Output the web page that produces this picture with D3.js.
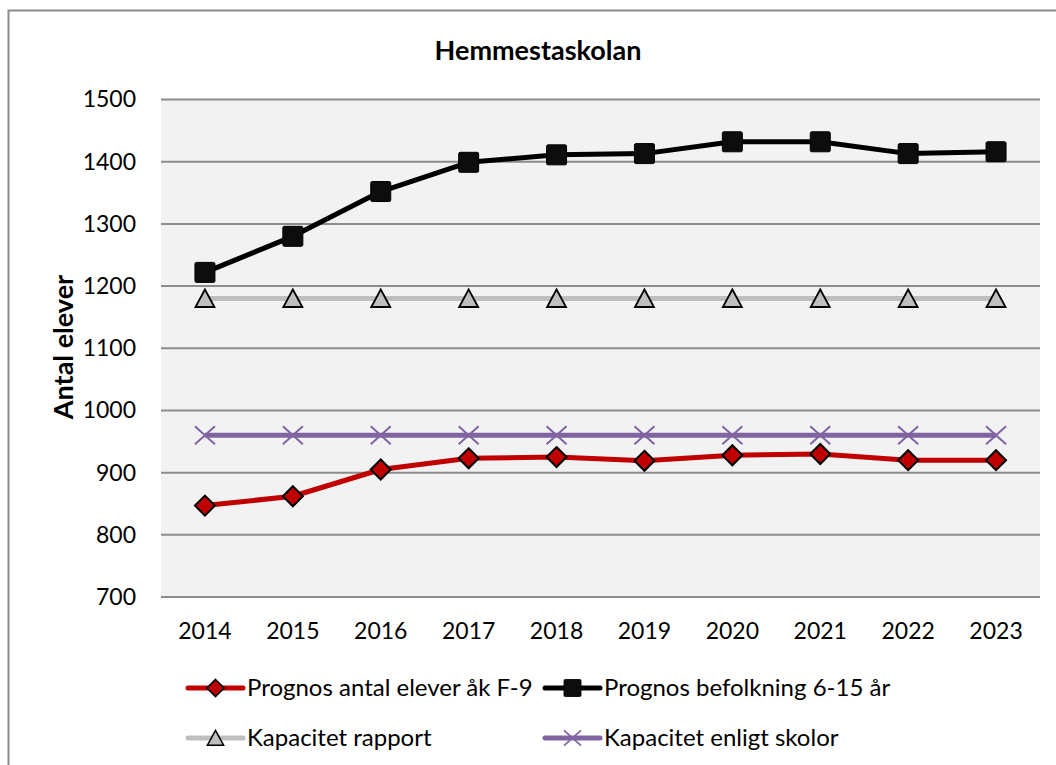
<!DOCTYPE html>
<html>
<head>
<meta charset="utf-8">
<style>
body { margin: 0; background: #fff; }
svg { font-family: Lato, "Open Sans", sans-serif; }
</style>
</head>
<body>
<div id="chart"></div>
<script src="https://cdn.jsdelivr.net/npm/d3@7/dist/d3.min.js"></script>
<script>
// chart data
const years = ["2014", "2015", "2016", "2017", "2018", "2019", "2020", "2021", "2022", "2023"];
const elever = [847, 862, 905, 923, 925, 919, 928, 930, 920, 920];
const befolkning = [1222, 1280, 1352, 1399, 1411, 1413, 1432, 1432, 1413, 1416];
const kapRapport = [1180, 1180, 1180, 1180, 1180, 1180, 1180, 1180, 1180, 1180];
const kapSkolor = [960, 960, 960, 960, 960, 960, 960, 960, 960, 960];
const yTicks = [700, 800, 900, 1000, 1100, 1200, 1300, 1400, 1500];

const W = 1056, H = 765;
const plot = {left: 161, right: 1040, top: 99.5, bottom: 597};

const svg = d3.select('#chart').append('svg')
    .attr('width', W).attr('height', H);

// outer frame
svg.append('rect')
    .attr('x', 8.5).attr('y', 10.5).attr('width', 1060).attr('height', 780)
    .attr('fill', '#fff').attr('stroke', '#8c8c8c').attr('stroke-width', 2);

const x = d3.scaleBand().domain(years).range([plot.left, plot.right]);
const y = d3.scaleLinear().domain([700, 1500]).range([plot.bottom, plot.top]);
const cx = d => x(d) + x.bandwidth() / 2;

svg.append('rect')
    .attr('x', plot.left).attr('y', plot.top)
    .attr('width', plot.right - plot.left).attr('height', plot.bottom - plot.top)
    .attr('fill', '#f2f2f2');

// gridlines
svg.append('g').selectAll('line').data(yTicks).join('line')
    .attr('x1', plot.left).attr('x2', plot.right)
    .attr('y1', d => y(d)).attr('y2', d => y(d))
    .attr('stroke', '#8c8c8c').attr('stroke-width', 2);

// y axis labels
const yAxis = svg.append('g')
    .attr('transform', `translate(${plot.left},0)`)
    .call(d3.axisLeft(y).tickValues(yTicks).tickSize(0).tickPadding(25).tickFormat(d3.format('d')));
yAxis.select('.domain').remove();
yAxis.selectAll('text').attr('font-size', 23).attr('fill', '#000').attr('font-family', 'Lato, sans-serif');

// x axis labels
const xAxis = svg.append('g')
    .attr('transform', `translate(0,${plot.bottom})`)
    .call(d3.axisBottom(x).tickSize(0));
xAxis.select('.domain').remove();
xAxis.selectAll('text').attr('y', 34).attr('dy', '0.35em')
    .attr('font-size', 23).attr('fill', '#000').attr('font-family', 'Lato, sans-serif');

svg.append('text')
    .attr('x', 538).attr('y', 60).attr('text-anchor', 'middle')
    .attr('font-size', 27).attr('font-weight', 'bold')
    .text('Hemmestaskolan');

svg.append('text')
    .attr('transform', 'translate(73,347) rotate(-90)')
    .attr('text-anchor', 'middle')
    .attr('font-size', 27).attr('font-weight', 'bold')
    .text('Antal elever');

const series = [
    {name: 'Kapacitet rapport', values: kapRapport, color: '#bfbfbf', marker: 'triangle'},
    {name: 'Kapacitet enligt skolor', values: kapSkolor, color: '#8064a2', marker: 'x'},
    {name: 'Prognos antal elever åk F-9', values: elever, color: '#c00000', marker: 'diamond'},
    {name: 'Prognos befolkning 6-15 år', values: befolkning, color: '#000000', marker: 'square'}
];

function drawMarker(g, type, color) {
    if (type === 'square') {
        g.append('rect').attr('x', -10).attr('y', -10).attr('width', 20).attr('height', 20)
            .attr('rx', 1.5).attr('fill', '#0d0d0d').attr('stroke', '#000').attr('stroke-width', 1);
    } else if (type === 'diamond') {
        g.append('path').attr('d', 'M0,-10L10,0L0,10L-10,0Z')
            .attr('fill', '#c00000').attr('stroke', '#000').attr('stroke-width', 2);
    } else if (type === 'triangle') {
        g.append('path').attr('d', 'M0,-9L9.5,8.5L-9.5,8.5Z')
            .attr('fill', '#bfbfbf').attr('stroke', '#000').attr('stroke-width', 1.8);
    } else if (type === 'x') {
        g.append('path').attr('d', 'M-10,-9L10,9M-10,9L10,-9')
            .attr('stroke', color).attr('stroke-width', 2).attr('fill', 'none');
    }
}

const line = d3.line().x((d, i) => cx(years[i])).y(d => y(d));

series.forEach(s => {
    svg.append('path').datum(s.values)
        .attr('d', line).attr('fill', 'none')
        .attr('stroke', s.color).attr('stroke-width', 5).attr('stroke-linejoin', 'round');
    svg.append('g').selectAll('g').data(s.values).join('g')
        .attr('transform', (d, i) => `translate(${cx(years[i])},${y(d)})`)
        .each(function () { drawMarker(d3.select(this), s.marker, s.color); });
});

// legend
const legendItems = [
    {s: series[2], x: 188, y: 688},
    {s: series[3], x: 545, y: 688},
    {s: series[0], x: 188, y: 738},
    {s: series[1], x: 545, y: 738}
];
legendItems.forEach(it => {
    const g = svg.append('g').attr('transform', `translate(${it.x},${it.y})`);
    g.append('line').attr('x1', 0).attr('x2', 55).attr('y1', 0).attr('y2', 0)
        .attr('stroke', it.s.color).attr('stroke-width', 5).attr('stroke-linecap', 'round');
    const m = g.append('g').attr('transform', 'translate(27.5,0) scale(0.85)');
    drawMarker(m, it.s.marker, it.s.color);
    g.append('text').attr('x', 59).attr('y', 0).attr('dy', '0.35em').attr('font-size', 24).text(it.s.name);
});
</script>
</body>
</html>
